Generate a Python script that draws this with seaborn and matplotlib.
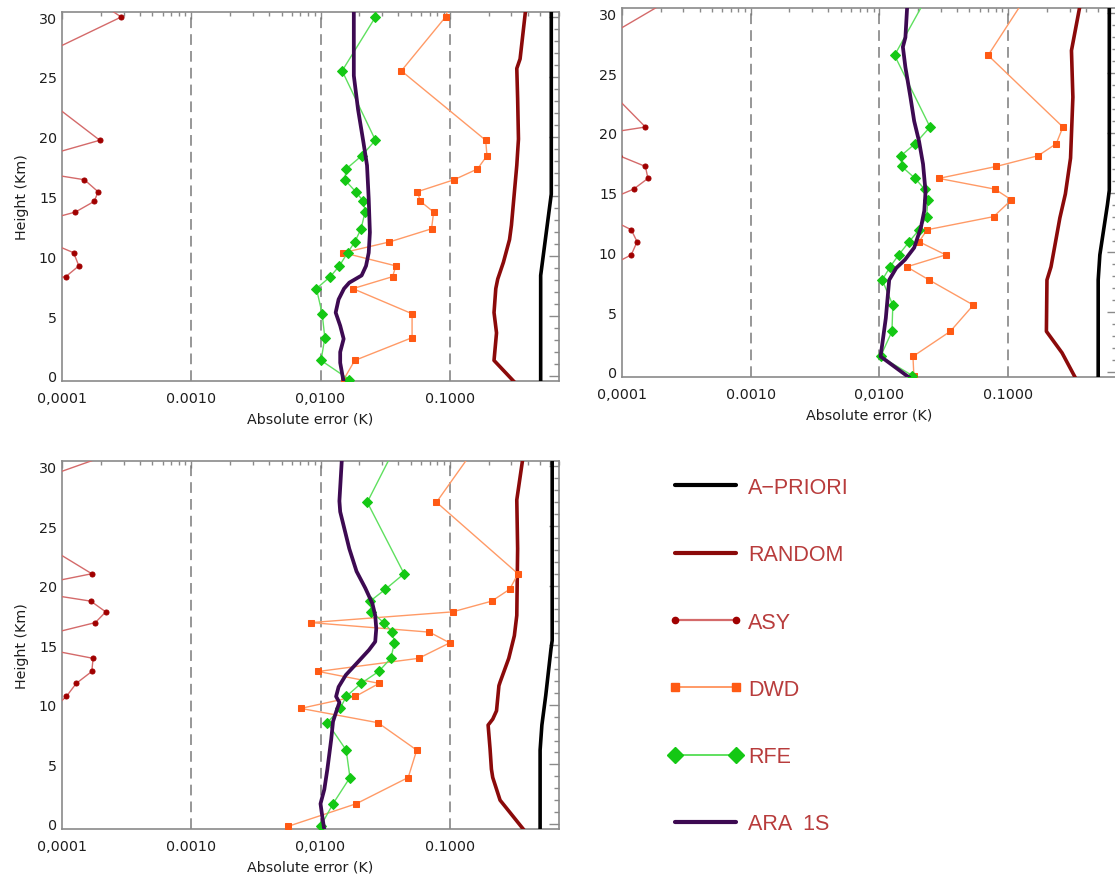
import numpy as np
import matplotlib
matplotlib.use("Agg")
import matplotlib.pyplot as plt
import seaborn as sns
from matplotlib.lines import Line2D
from matplotlib.legend_handler import HandlerLine2D
from matplotlib.ticker import (FixedLocator, FixedFormatter, NullFormatter,
                               MultipleLocator, LogLocator)

# ---------------- data ----------------
SERIES = ["A\u2212PRIORI", "RANDOM", "ASY", "DWD", "RFE", "ARA  1S"]
XTICKS = [1e-4, 1e-3, 1e-2, 1e-1]
XTICK_LABELS = ["0,0001", "0.0010", "0,0100", "0.1000"]

# panel 1 (top left)
P1_LEV = [35, 30, 25.5, 19.7, 18.4, 17.3, 16.4, 15.4, 14.6, 13.7, 12.3, 11.2, 10.3, 9.2, 8.3, 7.3, 5.2, 3.2, 1.3, -0.3]
P1_ASY = [5.8e-5, 2.87e-4, 3.9e-5, 1.96e-4, 7.4e-5, 4.5e-5, 1.49e-4, 1.9e-4, 1.78e-4, 1.27e-4, 4.2e-5, 7.8e-5, 1.23e-4, 1.35e-4, 1.07e-4, 2e-5, 2e-5, 2e-5, 2e-5, 2e-5]
P1_DWD = [0.133, 0.0927, 0.0422, 0.1896, 0.194, 0.1637, 0.108, 0.0562, 0.0592, 0.075, 0.0723, 0.0341, 0.0150, 0.0383, 0.0361, 0.0178, 0.0511, 0.0511, 0.0184, 0.0151]
P1_RFE = [0.0306, 0.0266, 0.0147, 0.0266, 0.0208, 0.0158, 0.0154, 0.0187, 0.0215, 0.0221, 0.0206, 0.0184, 0.0162, 0.0140, 0.0119, 0.0093, 0.0103, 0.0108, 0.0101, 0.0167]
P1_ARA_H = [31, 25.1, 22.3, 19.5, 17.6, 14.8, 12.0, 10.3, 9.2, 8.4, 7.8, 7.3, 6.4, 5.3, 4.2, 3.1, 2.0, 1.1, -0.5]
P1_ARA = [0.0181, 0.0181, 0.0195, 0.0215, 0.0229, 0.0236, 0.0241, 0.0236, 0.0225, 0.0208, 0.0167, 0.0152, 0.0138, 0.0131, 0.0142, 0.0151, 0.0142, 0.0142, 0.0151]
P1_RAND_H = [31, 26.5, 25.7, 23.2, 19.8, 17.6, 12.6, 11.4, 9.5, 8.1, 7.3, 5.3, 3.6, 1.3, -0.5]
P1_RAND = [0.39, 0.35, 0.33, 0.335, 0.34, 0.33, 0.30, 0.29, 0.26, 0.235, 0.227, 0.22, 0.23, 0.22, 0.316]
P1_APRI_H = [31, 15.2, 8.4, -0.5]
P1_APRI = [0.61, 0.61, 0.505, 0.505]

# panel 2 (top right)
P2_LEV = [33, 26.5, 20.5, 19.1, 18.1, 17.2, 16.2, 15.3, 14.4, 13.0, 11.9, 10.9, 9.8, 8.8, 7.7, 5.6, 3.4, 1.3, -0.3]
P2_ASY = [4.6e-4, 4.3e-5, 1.52e-4, 2.2e-5, 9.5e-5, 1.52e-4, 1.59e-4, 1.23e-4, 7.8e-5, 7.4e-5, 1.18e-4, 1.31e-4, 1.18e-4, 7.8e-5, 2e-5, 2e-5, 2e-5, 2e-5, 2e-5]
P2_DWD = [0.172, 0.0698, 0.266, 0.236, 0.171, 0.0808, 0.0289, 0.0789, 0.106, 0.0770, 0.0234, 0.0203, 0.0327, 0.0163, 0.0243, 0.0536, 0.0355, 0.0182, 0.0185]
P2_RFE = [0.0283, 0.0131, 0.0247, 0.0189, 0.0147, 0.0149, 0.0189, 0.0224, 0.0238, 0.0232, 0.0203, 0.0170, 0.0141, 0.0121, 0.0105, 0.0127, 0.0125, 0.0102, 0.0180]
P2_ARA_H = [31, 28, 27.2, 25.5, 23, 21, 19.3, 17.4, 15.1, 13.5, 12.1, 10.4, 9.4, 8.7, 7.7, 4.5, 1.3, -0.5]
P2_ARA = [0.0165, 0.0159, 0.0152, 0.0159, 0.0174, 0.0186, 0.0203, 0.0218, 0.0228, 0.0223, 0.0210, 0.0186, 0.0158, 0.0135, 0.0119, 0.0112, 0.0102, 0.0172]
P2_RAND_H = [31, 26.9, 23, 17.9, 14.9, 12.9, 11.2, 8.8, 7.7, 3.4, 1.6, -0.5]
P2_RAND = [0.366, 0.31, 0.318, 0.305, 0.278, 0.252, 0.236, 0.215, 0.20, 0.198, 0.262, 0.333]
P2_APRI_H = [31, 15.2, 14.0, 9.8, 7.7, -0.5]
P2_APRI = [0.61, 0.61, 0.59, 0.515, 0.50, 0.50]

# panel 3 (bottom left)
P3_LEV = [33, 27.0, 21.0, 19.7, 18.7, 17.8, 16.9, 16.1, 15.2, 13.9, 12.8, 11.8, 10.7, 9.7, 8.5, 6.2, 3.9, 1.7, -0.2]
P3_ASY = [7.7e-4, 2.1e-5, 1.7e-4, 4.3e-5, 1.67e-4, 2.18e-4, 1.81e-4, 9.1e-5, 4.2e-5, 1.74e-4, 1.7e-4, 1.29e-4, 1.08e-4, 8.6e-5, 3e-5, 2e-5, 2e-5, 2e-5, 2e-5]
P3_DWD = [0.195, 0.0789, 0.337, 0.291, 0.211, 0.105, 0.0084, 0.0695, 0.100, 0.0573, 0.0096, 0.0284, 0.0186, 0.00703, 0.0278, 0.0555, 0.0477, 0.0189, 0.0056]
P3_RFE = [0.044, 0.023, 0.0443, 0.0318, 0.0242, 0.0248, 0.0308, 0.036, 0.0373, 0.0350, 0.0282, 0.0206, 0.0158, 0.0142, 0.0113, 0.0158, 0.0169, 0.0125, 0.0100]
P3_ARA_H = [31, 27.1, 26.2, 23.1, 21.2, 19.8, 18.5, 17.5, 16.4, 15.3, 14.6, 13.6, 12.5, 11.5, 10.7, 10.2, 9.5, 8.6, 7.1, 4.6, 2.9, 1.7, 0.7, -0.5]
P3_ARA = [0.0147, 0.0140, 0.0142, 0.0167, 0.0190, 0.0222, 0.0252, 0.0265, 0.0270, 0.0265, 0.0237, 0.0195, 0.0157, 0.0138, 0.0132, 0.0140, 0.0133, 0.0125, 0.0121, 0.0113, 0.0107, 0.0100, 0.0103, 0.0107]
P3_RAND_H = [31, 27.2, 23.1, 17.5, 15.8, 13.9, 11.9, 11.6, 9.5, 8.8, 8.3, 6.3, 4.6, 3.9, 2.0, -0.5]
P3_RAND = [0.371, 0.33, 0.335, 0.33, 0.316, 0.286, 0.245, 0.24, 0.23, 0.215, 0.198, 0.205, 0.21, 0.215, 0.245, 0.375]
P3_APRI_H = [31, 15.4, 14.7, 10.8, 8.3, 6.2, -0.5]
P3_APRI = [0.62, 0.62, 0.607, 0.553, 0.516, 0.50, 0.50]

# ---------------- style ----------------
sns.set_theme(style="white")
plt.rcParams["font.family"] = ["DejaVu Sans"]

C_APRI = "#000000"
C_RAND = "#8b0a0a"
C_ASY_L, C_ASY_M = "#d46a6a", "#a00000"
C_DWD_L, C_DWD_M = "#ff9a66", "#ff5a14"
C_RFE_L, C_RFE_M = "#5fe05f", "#14c814"
C_ARA = "#3d0a52"
FRAME = "#8a8a8a"
TXT = "#1e1e1e"

W, H = 1115, 879
fig = plt.figure(figsize=(W / 100, H / 100), dpi=100)


def px_axes(left, top, right, bottom):
    return fig.add_axes([left / W, 1 - bottom / H, (right - left) / W, (bottom - top) / H])


def panel(ax, lev, asy, dwd, rfe, ara_h, ara, rnd_h, rnd, apr_h, apr, ylabel=True):
    for v in XTICKS[1:]:
        ax.axvline(v, color="#7a7a7a", lw=1.1, ls=(0, (7, 4)), zorder=1)
    common = dict(sort=False, estimator=None, ax=ax, legend=False)
    sns.lineplot(x=apr, y=apr_h, color=C_APRI, lw=2.6, zorder=3, **common)
    sns.lineplot(x=rnd, y=rnd_h, color=C_RAND, lw=2.6, zorder=3, **common)
    sns.lineplot(x=asy, y=lev, color=C_ASY_L, lw=1.0, marker="o", ms=3.6,
                 mfc=C_ASY_M, mec=C_ASY_M, zorder=4, **common)
    sns.lineplot(x=dwd, y=lev, color=C_DWD_L, lw=1.0, marker="s", ms=4.2,
                 mfc=C_DWD_M, mec=C_DWD_M, zorder=4, **common)
    sns.lineplot(x=rfe, y=lev, color=C_RFE_L, lw=1.0, marker="D", ms=5.2,
                 mfc=C_RFE_M, mec=C_RFE_M, zorder=4, **common)
    sns.lineplot(x=ara, y=ara_h, color=C_ARA, lw=2.7, zorder=5, **common)

    ax.set_xscale("log")
    ax.set_xlim(1e-4, 0.70)
    ax.set_ylim(-0.42, 30.46)
    ax.xaxis.set_major_locator(FixedLocator(XTICKS))
    ax.xaxis.set_major_formatter(FixedFormatter(XTICK_LABELS))
    ax.xaxis.set_minor_locator(LogLocator(base=10, subs=np.arange(2, 10), numticks=30))
    ax.xaxis.set_minor_formatter(NullFormatter())
    ax.yaxis.set_major_locator(MultipleLocator(5))
    ax.yaxis.set_minor_locator(MultipleLocator(1))
    ax.tick_params(which="both", direction="in", top=True, right=True,
                   color=FRAME, width=1.0, labelcolor=TXT, labelsize=10.3)
    ax.tick_params(axis="x", which="major", length=5.3, pad=7)
    ax.tick_params(axis="x", which="minor", length=2.7)
    ax.tick_params(axis="y", which="major", length=7.2, pad=3.5)
    ax.tick_params(axis="y", which="minor", length=3.6)
    for s in ax.spines.values():
        s.set_color(FRAME)
        s.set_linewidth(1.2)
    ax.set_xlabel("Absolute error (K)", fontsize=10.3, color=TXT, labelpad=5)
    if ylabel:
        ax.set_ylabel("Height (Km)", fontsize=10.3, color=TXT, labelpad=7)
    else:
        ax.set_ylabel("")
    ax.grid(False)


ax1 = px_axes(62, 12.5, 559, 382)
panel(ax1, P1_LEV, P1_ASY, P1_DWD, P1_RFE, P1_ARA_H, P1_ARA, P1_RAND_H, P1_RAND, P1_APRI_H, P1_APRI)

ax2 = px_axes(622, 9, 1117, 378)
panel(ax2, P2_LEV, P2_ASY, P2_DWD, P2_RFE, P2_ARA_H, P2_ARA, P2_RAND_H, P2_RAND, P2_APRI_H, P2_APRI, ylabel=False)

ax3 = px_axes(62, 462, 559, 830)
panel(ax3, P3_LEV, P3_ASY, P3_DWD, P3_RFE, P3_ARA_H, P3_ARA, P3_RAND_H, P3_RAND, P3_APRI_H, P3_APRI)

# ---------------- legend ----------------
handles = [
    Line2D([], [], color=C_APRI, lw=3.0),
    Line2D([], [], color=C_RAND, lw=3.0),
    Line2D([], [], color=C_ASY_L, lw=1.6, marker="o", ms=4.5, mfc=C_ASY_M, mec=C_ASY_M),
    Line2D([], [], color=C_DWD_L, lw=1.4, marker="s", ms=6, mfc=C_DWD_M, mec=C_DWD_M),
    Line2D([], [], color=C_RFE_L, lw=1.4, marker="D", ms=8, mfc=C_RFE_M, mec=C_RFE_M),
    Line2D([], [], color=C_ARA, lw=3.0),
]
fig.legend(handles, SERIES, loc="upper left", bbox_to_anchor=(675 / W, 1 - 478 / H),
           frameon=False, numpoints=2, labelcolor="#b83c3c",
           handlelength=2.84, handletextpad=0.55, labelspacing=2.15,
           borderpad=0, borderaxespad=0, prop={"family": "Liberation Sans", "size": 15.5},
           handler_map={Line2D: HandlerLine2D(marker_pad=0)})

fig.savefig("out.png", dpi=100)
